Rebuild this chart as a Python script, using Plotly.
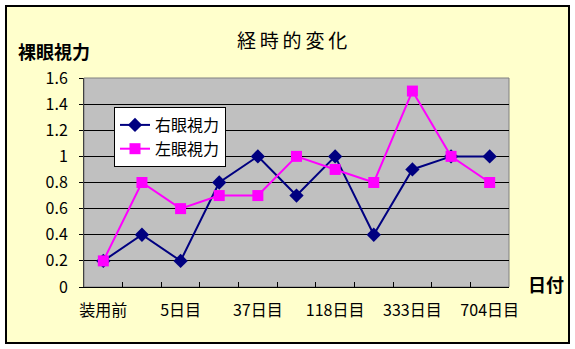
import plotly.graph_objects as go

categories = ["装用前", "", "5日目", "", "37日目", "", "118日目", "", "333日目", "", "704日目"]
right_eye = [0.2, 0.4, 0.2, 0.8, 1.0, 0.7, 1.0, 0.4, 0.9, 1.0, 1.0]
left_eye = [0.2, 0.8, 0.6, 0.7, 0.7, 1.0, 0.9, 0.8, 1.5, 1.0, 0.8]
y_ticks = [0, 0.2, 0.4, 0.6, 0.8, 1.0, 1.2, 1.4, 1.6]

FONT = "Noto Sans CJK JP"
xs = list(range(len(categories)))
xr = [-0.5, len(categories) - 0.5]

fig = go.Figure()
fig.add_trace(go.Scatter(
    x=xs, y=right_eye, name="右眼視力", mode="lines+markers",
    line=dict(color="#000080", width=2),
    marker=dict(symbol="diamond", size=11, color="#000080"),
))
fig.add_trace(go.Scatter(
    x=xs, y=left_eye, name="左眼視力", mode="lines+markers",
    line=dict(color="#FF00FF", width=2),
    marker=dict(symbol="square", size=11, color="#FF00FF"),
))
fig.add_trace(go.Scatter(x=[xs[0]], y=[None], xaxis="x2", yaxis="y",
                         showlegend=False, hoverinfo="skip", mode="markers"))

W, H = 575, 349
L, R, T, B = 84, 509, 78, 287

def px(x):
    return (x - L) / (R - L)

def py(y):
    return (B - y) / (B - T)

fig.update_layout(
    width=W, height=H,
    margin=dict(l=L, r=W - R, t=T, b=H - B),
    paper_bgcolor="white",
    plot_bgcolor="#C0C0C0",
    font=dict(family=FONT, size=16, color="black"),
    showlegend=True,
    legend=dict(
        x=px(114), y=py(107), xanchor="left", yanchor="top",
        bgcolor="white", bordercolor="black", borderwidth=1,
        font=dict(size=16), tracegroupgap=0, itemwidth=30,
    ),
    xaxis=dict(
        range=xr,
        tickvals=[i + 0.5 for i in xs[:-1]], ticktext=[""] * (len(xs) - 1),
        ticks="inside", ticklen=5, tickwidth=1, tickcolor="black",
        showgrid=False, zeroline=False,
        showline=True, linecolor="black", linewidth=1,
    ),
    xaxis2=dict(
        overlaying="x", anchor="y", side="bottom", range=xr,
        tickvals=xs[::2], ticktext=categories[::2],
        ticks="", showgrid=False, zeroline=False, showline=False,
        tickfont=dict(size=16), ticklabelstandoff=12,
    ),
    yaxis=dict(
        range=[0, 1.6], tickvals=y_ticks,
        ticktext=[("%g" % v) for v in y_ticks],
        ticks="outside", ticklen=4, tickcolor="black",
        showgrid=True, gridcolor="black", gridwidth=1,
        zeroline=False, showline=True, linecolor="#404040", linewidth=1,
        tickfont=dict(size=16), ticklabelstandoff=8,
    ),
    shapes=[
        dict(type="rect", xref="paper", yref="paper",
             x0=px(6), x1=px(569), y0=py(343), y1=py(6),
             fillcolor="#FFFFCC", line=dict(color="black", width=2), layer="below"),
        dict(type="rect", xref="paper", yref="paper",
             x0=0, x1=1, y0=0, y1=1,
             fillcolor="#C0C0C0", line=dict(color="#808080", width=1), layer="below"),
    ],
    annotations=[
        dict(text="経\u2009時\u2009的\u2009変\u2009化", xref="paper", yref="paper", x=px(292), y=py(40),
             xanchor="center", yanchor="middle", showarrow=False,
             font=dict(size=19, family=FONT)),
        dict(text="<b>裸眼視力</b>", xref="paper", yref="paper", x=px(16), y=py(51),
             xanchor="left", yanchor="middle", showarrow=False,
             font=dict(size=18, family=FONT)),
        dict(text="<b>日付</b>", xref="paper", yref="paper", x=px(526), y=py(284),
             xanchor="left", yanchor="middle", showarrow=False,
             font=dict(size=18, family=FONT)),
    ],
)

fig.write_html("out.html")
